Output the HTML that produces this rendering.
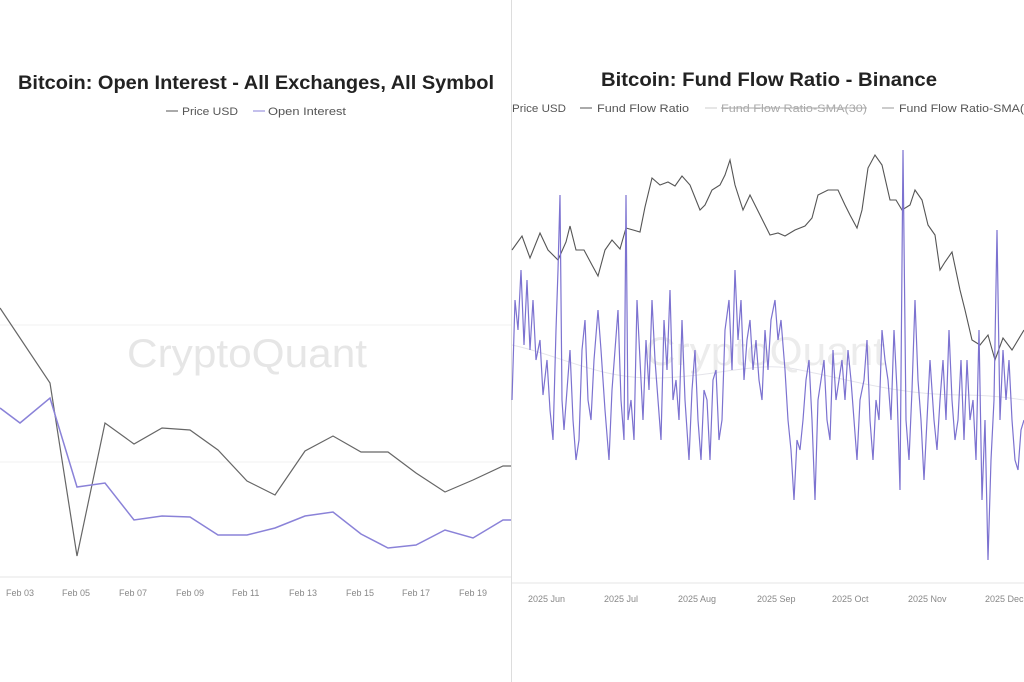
<!DOCTYPE html>
<html><head><meta charset="utf-8"><style>
html,body{margin:0;padding:0;background:#fff;}
svg{display:block;font-family:"Liberation Sans",sans-serif;}
</style></head><body>
<svg width="1024" height="682" viewBox="0 0 1024 682">
<rect width="1024" height="682" fill="#fff"/>
<!-- Left chart -->
<text x="18" y="89" font-size="19" font-weight="bold" fill="#222" textLength="476" lengthAdjust="spacingAndGlyphs">Bitcoin: Open Interest - All Exchanges, All Symbol</text>
<line x1="166" y1="111" x2="178" y2="111" stroke="#555" stroke-width="1"/>
<text x="182" y="115" font-size="11" fill="#555" textLength="56" lengthAdjust="spacingAndGlyphs">Price USD</text>
<line x1="253" y1="111" x2="265" y2="111" stroke="#8a82d8" stroke-width="1"/>
<text x="268" y="115" font-size="11" fill="#555" textLength="78" lengthAdjust="spacingAndGlyphs">Open Interest</text>
<line x1="0" y1="325" x2="511" y2="325" stroke="#f2f2f2"/>
<line x1="0" y1="462" x2="511" y2="462" stroke="#f2f2f2"/>
<line x1="0" y1="577" x2="511" y2="577" stroke="#e6e6e6"/>
<text x="127" y="367" font-size="40" fill="#e6e6e6" textLength="240" lengthAdjust="spacingAndGlyphs">CryptoQuant</text>
<polyline fill="none" stroke="#666" stroke-width="1.2" points="0,308 50,383 77,556 105,423 134,444 162,428 190,430 218,450 247,481 275,495 305,451 333,436 361,452 388,452 416,473 445,492 473,480 503,466 512,466"/>
<polyline fill="none" stroke="#8a82d8" stroke-width="1.5" points="0,408 20,423 50,398 77,487 105,483 134,520 162,516 190,517 218,535 247,535 275,528 305,516 333,512 361,534 388,548 416,545 445,530 473,538 503,520 512,520"/>
<g font-size="9" fill="#888">
<text x="6" y="596">Feb 03</text><text x="62" y="596">Feb 05</text><text x="119" y="596">Feb 07</text><text x="176" y="596">Feb 09</text><text x="232" y="596">Feb 11</text><text x="289" y="596">Feb 13</text><text x="346" y="596">Feb 15</text><text x="402" y="596">Feb 17</text><text x="459" y="596">Feb 19</text>
</g>
<line x1="511.5" y1="0" x2="511.5" y2="682" stroke="#ddd"/>
<!-- Right chart -->
<text x="601" y="86" font-size="19" font-weight="bold" fill="#222" textLength="336" lengthAdjust="spacingAndGlyphs">Bitcoin: Fund Flow Ratio - Binance</text>
<g font-size="11" fill="#555">
<text x="512" y="112" textLength="54" lengthAdjust="spacingAndGlyphs">Price USD</text>
<line x1="580" y1="108" x2="592" y2="108" stroke="#555"/>
<text x="597" y="112" textLength="92" lengthAdjust="spacingAndGlyphs">Fund Flow Ratio</text>
<line x1="705" y1="108" x2="717" y2="108" stroke="#ccc"/>
<text x="721" y="112" fill="#aaa" textLength="146" lengthAdjust="spacingAndGlyphs">Fund Flow Ratio-SMA(30)</text>
<line x1="721" y1="108" x2="867" y2="108" stroke="#aaa"/>
<line x1="882" y1="108" x2="894" y2="108" stroke="#999"/>
<text x="899" y="112" textLength="125" lengthAdjust="spacingAndGlyphs">Fund Flow Ratio-SMA(</text>
</g>
<line x1="512" y1="583" x2="1024" y2="583" stroke="#e6e6e6"/>
<text x="645" y="365" font-size="40" fill="#ececec" textLength="240" lengthAdjust="spacingAndGlyphs">CryptoQuant</text>
<path d="M512,345 C560,355 600,380 660,378 C720,376 760,360 800,370 C850,380 900,395 960,395 C990,395 1010,398 1024,400" fill="none" stroke="#e4e4ea" stroke-width="1"/>
<polyline fill="none" stroke="#555" stroke-width="1.1" points="512,250 522,236 530,258 540,233 548,250 558,260 566,242 570,226 576,250 584,250 592,265 598,276 605,250 612,240 620,249 626,228 640,232 645,207 652,178 660,185 668,182 675,186 682,176 690,185 700,210 705,205 712,190 720,185 725,175 730,160 735,185 743,210 750,195 760,215 770,235 778,233 785,236 795,230 805,226 812,218 818,195 828,190 838,190 845,205 850,215 857,228 862,210 868,168 875,155 882,165 890,200 896,200 902,210 910,205 915,190 922,200 928,225 935,235 940,270 945,262 952,252 960,290 965,310 972,340 980,345 988,335 995,360 1003,338 1012,350 1024,330"/>
<polyline fill="none" stroke="#7c72d0" stroke-width="1.2" points="512,400 515,300 518,330 521,270 524,345 527,280 530,350 533,300 536,360 540,340 543,395 547,360 550,410 553,440 556,330 558,270 560,195 562,400 564,430 567,390 570,350 573,420 576,460 579,440 582,350 585,320 588,400 591,420 594,360 598,310 601,350 605,410 609,460 612,390 615,350 618,310 621,400 624,440 626,195 628,420 631,400 634,440 637,300 640,360 643,420 646,340 649,390 652,300 655,360 658,400 661,440 664,320 667,370 670,290 673,400 676,380 679,420 682,320 685,400 689,460 692,390 695,350 698,420 701,460 704,390 707,400 710,460 713,380 716,370 719,440 722,420 725,330 729,300 732,370 735,270 738,340 741,300 744,380 747,340 750,320 753,370 756,340 759,380 762,400 765,330 768,370 771,320 775,300 778,340 781,320 785,370 788,420 791,450 794,500 797,440 800,450 803,420 806,380 809,360 812,420 815,500 818,400 821,380 824,360 827,420 830,440 833,350 836,400 839,380 842,360 845,400 848,350 851,380 854,420 857,460 860,400 864,380 867,340 870,420 873,460 876,400 879,420 882,330 885,360 888,380 891,420 894,330 897,390 900,490 903,150 906,420 909,460 912,390 915,300 918,380 921,420 924,480 927,420 930,360 934,420 937,450 940,400 943,360 946,420 949,330 952,400 955,440 958,420 961,360 964,440 967,360 970,420 973,400 976,460 979,330 982,500 985,420 988,560 991,460 994,400 997,230 1000,420 1003,350 1006,400 1009,360 1012,420 1015,460 1018,470 1021,430 1024,420"/>
<g font-size="9" fill="#888">
<text x="528" y="602">2025 Jun</text><text x="604" y="602">2025 Jul</text><text x="678" y="602">2025 Aug</text><text x="757" y="602">2025 Sep</text><text x="832" y="602">2025 Oct</text><text x="908" y="602">2025 Nov</text><text x="985" y="602">2025 Dec</text>
</g>
</svg>
</body></html>
